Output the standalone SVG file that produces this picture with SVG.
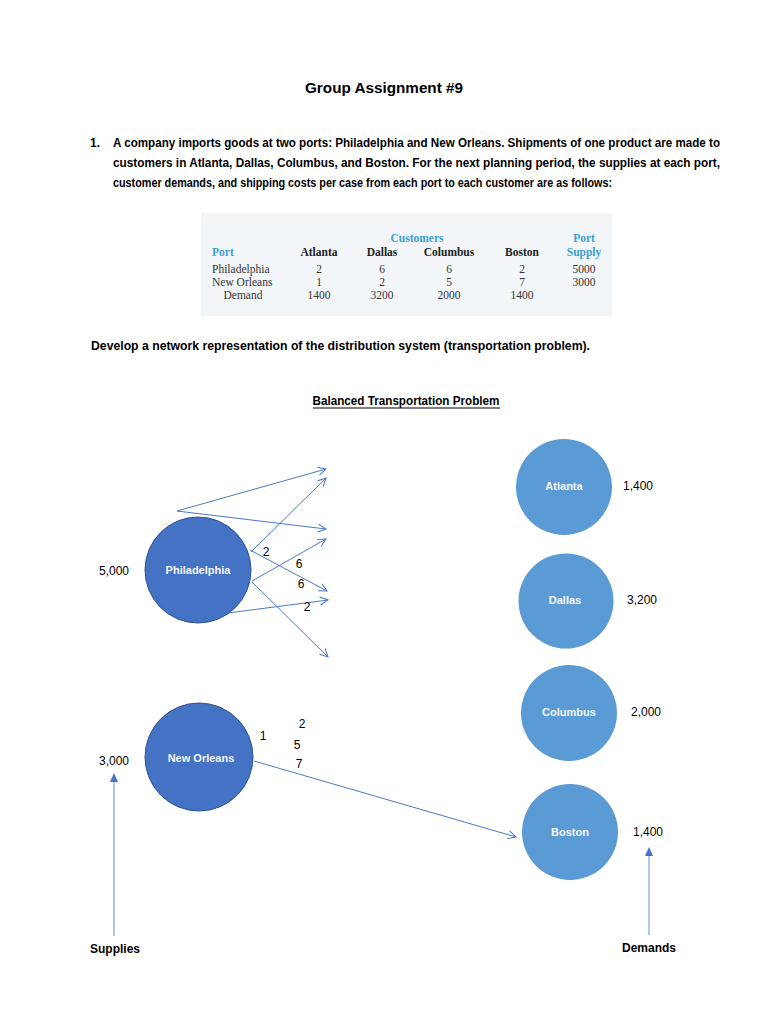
<svg xmlns="http://www.w3.org/2000/svg" width="768" height="1024" viewBox="0 0 768 1024">
<style>
.t{font-family:"Liberation Sans",Arial,sans-serif;fill:#000}
.b{font-weight:bold}
.tab{font-family:"Liberation Serif","Times New Roman",serif;font-size:11.5px;fill:#333}
.th{font-weight:bold;fill:#222}
.cy{fill:#3a9fd6;font-weight:bold}
.nl{font-family:"Liberation Sans",Arial,sans-serif;font-size:11px;font-weight:bold;fill:#f4f8fd}
.lbl{font-family:"Liberation Sans",Arial,sans-serif;font-size:12px;fill:#000}
.con{stroke:#4a78c8;stroke-width:1;fill:none}
</style>
<defs>
<marker id="open" markerWidth="10" markerHeight="10" refX="9" refY="5" orient="auto" markerUnits="userSpaceOnUse">
<path d="M1,1 L9,5 L1,9" fill="none" stroke="#4a78c8" stroke-width="1"/>
</marker>
</defs>
<rect width="768" height="1024" fill="#fff"/>

<text class="t b" x="384" y="93" font-size="14.5" text-anchor="middle" textLength="158" lengthAdjust="spacingAndGlyphs">Group Assignment #9</text>

<text class="t b" x="90" y="147" font-size="12">1.</text>
<text class="t b" x="113" y="147" font-size="12" textLength="607" lengthAdjust="spacingAndGlyphs">A company imports goods at two ports: Philadelphia and New Orleans. Shipments of one product are made to</text>
<text class="t b" x="113" y="167" font-size="12" textLength="607" lengthAdjust="spacingAndGlyphs">customers in Atlanta, Dallas, Columbus, and Boston. For the next planning period, the supplies at each port,</text>
<text class="t b" x="113" y="187" font-size="12" textLength="499" lengthAdjust="spacingAndGlyphs">customer demands, and shipping costs per case from each port to each customer are as follows:</text>

<g id="table">
<rect x="201" y="213" width="411" height="103" fill="#f3f6f9"/>
<text class="tab cy" x="417" y="242" text-anchor="middle">Customers</text>
<text class="tab cy" x="584" y="242" text-anchor="middle">Port</text>
<text class="tab cy" x="212" y="256">Port</text>
<text class="tab cy" x="584" y="256" text-anchor="middle">Supply</text>
<text class="tab th" x="319" y="256" text-anchor="middle">Atlanta</text>
<text class="tab th" x="382" y="256" text-anchor="middle">Dallas</text>
<text class="tab th" x="449" y="256" text-anchor="middle">Columbus</text>
<text class="tab th" x="522" y="256" text-anchor="middle">Boston</text>
<text class="tab" x="212" y="273">Philadelphia</text>
<text class="tab" x="212" y="286">New Orleans</text>
<text class="tab" x="243" y="299" text-anchor="middle">Demand</text>
<g text-anchor="middle">
<text class="tab" x="319" y="273">2</text><text class="tab" x="382" y="273">6</text><text class="tab" x="449" y="273">6</text><text class="tab" x="522" y="273">2</text><text class="tab" x="584" y="273">5000</text>
<text class="tab" x="319" y="286">1</text><text class="tab" x="382" y="286">2</text><text class="tab" x="449" y="286">5</text><text class="tab" x="522" y="286">7</text><text class="tab" x="584" y="286">3000</text>
<text class="tab" x="319" y="299">1400</text><text class="tab" x="382" y="299">3200</text><text class="tab" x="449" y="299">2000</text><text class="tab" x="522" y="299">1400</text>
</g>
</g>

<text class="t b" x="91" y="350" font-size="12" textLength="499" lengthAdjust="spacingAndGlyphs">Develop a network representation of the distribution system (transportation problem).</text>

<text class="t b" x="406" y="405" font-size="12" text-anchor="middle" textLength="187" lengthAdjust="spacingAndGlyphs">Balanced Transportation Problem</text>
<line x1="313" y1="408" x2="500" y2="408" stroke="#000" stroke-width="1"/>

<g id="connectors">
<line class="con" x1="177" y1="511" x2="326" y2="469" marker-end="url(#open)"/>
<line class="con" x1="177" y1="511" x2="326" y2="529" marker-end="url(#open)"/>
<line class="con" x1="251" y1="552" x2="326" y2="478" marker-end="url(#open)"/>
<line class="con" x1="250" y1="550" x2="327" y2="591" marker-end="url(#open)"/>
<line class="con" x1="252" y1="581" x2="326" y2="539" marker-end="url(#open)"/>
<line class="con" x1="252" y1="582" x2="328" y2="657" marker-end="url(#open)"/>
<line class="con" x1="228" y1="613" x2="328" y2="600" marker-end="url(#open)"/>
<line class="con" x1="254" y1="761" x2="516" y2="837" marker-end="url(#open)"/>
<line x1="114" y1="936" x2="114" y2="782" stroke="#9db4e2" stroke-width="1.5"/>
<path d="M114,773 L110,782 L118,782 Z" fill="#4472c4"/>
<line x1="649" y1="935" x2="649" y2="856" stroke="#9db4e2" stroke-width="1.5"/>
<path d="M649,847 L645,856 L653,856 Z" fill="#4472c4"/>
</g>

<g id="philadelphia">
<circle cx="198" cy="570" r="53" fill="#4472c4" stroke="#2f528f" stroke-width="1"/>
<text class="nl" x="198" y="574" text-anchor="middle">Philadelphia</text>
</g>
<g id="new-orleans">
<circle cx="199" cy="757" r="54" fill="#4472c4" stroke="#2f528f" stroke-width="1"/>
<text class="nl" x="201" y="762" text-anchor="middle">New Orleans</text>
</g>
<g id="atlanta">
<circle cx="564" cy="487" r="48" fill="#5b9bd5"/>
<text class="nl" x="564" y="490" text-anchor="middle">Atlanta</text>
</g>
<g id="dallas">
<circle cx="566" cy="601" r="47.5" fill="#5b9bd5"/>
<text class="nl" x="565" y="604" text-anchor="middle">Dallas</text>
</g>
<g id="columbus">
<circle cx="569" cy="713" r="48" fill="#5b9bd5"/>
<text class="nl" x="569" y="716" text-anchor="middle">Columbus</text>
</g>
<g id="boston">
<circle cx="570" cy="832" r="48" fill="#5b9bd5"/>
<text class="nl" x="570" y="836" text-anchor="middle">Boston</text>
</g>

<g id="labels" class="lbl">
<text x="114" y="575" text-anchor="middle">5,000</text>
<text x="114" y="765" text-anchor="middle">3,000</text>
<text x="638" y="490" text-anchor="middle">1,400</text>
<text x="642" y="604" text-anchor="middle">3,200</text>
<text x="646" y="716" text-anchor="middle">2,000</text>
<text x="648" y="836" text-anchor="middle">1,400</text>
<text x="266" y="556" text-anchor="middle">2</text>
<text x="299" y="568" text-anchor="middle">6</text>
<text x="301" y="588" text-anchor="middle">6</text>
<text x="307" y="611" text-anchor="middle">2</text>
<text x="263" y="740" text-anchor="middle">1</text>
<text x="302" y="728" text-anchor="middle">2</text>
<text x="297" y="749" text-anchor="middle">5</text>
<text x="299" y="768" text-anchor="middle">7</text>
<text class="b" x="115" y="953" text-anchor="middle">Supplies</text>
<text class="b" x="649" y="952" text-anchor="middle">Demands</text>
</g>
</svg>
